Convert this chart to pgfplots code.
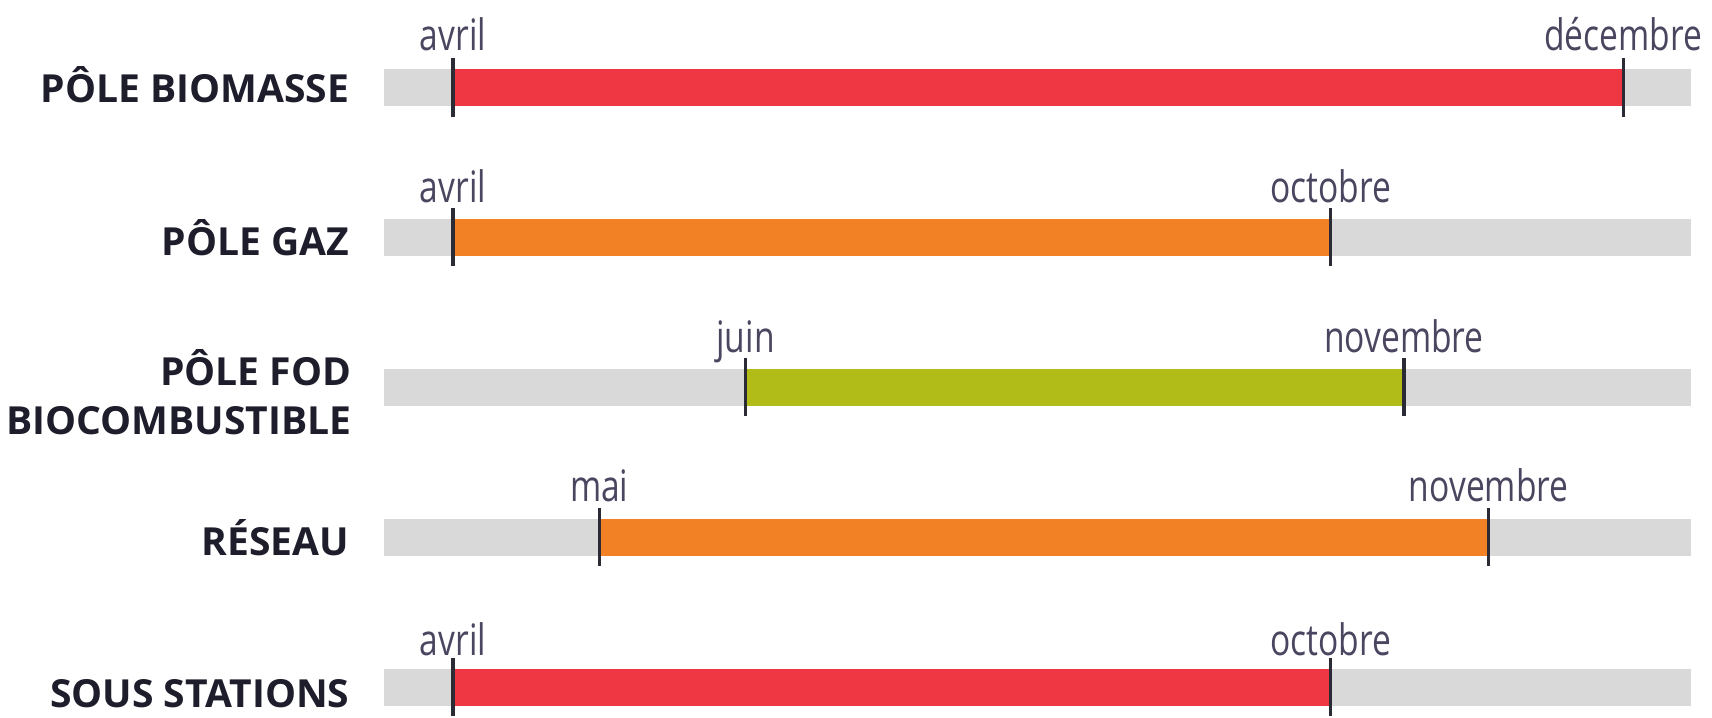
\documentclass[border=0pt]{standalone}
\usepackage{fontspec}
\usepackage{pgfplots}
\pgfplotsset{compat=1.18}
\setmainfont{Open Sans}
\newfontfamily\monthfont[FakeStretch=0.775]{Open Sans}
\newfontfamily\labelfont[FakeStretch=1.01]{Open Sans}
\definecolor{cred}{HTML}{EE3742}
\definecolor{corange}{HTML}{F28025}
\definecolor{cgreen}{HTML}{B1BC18}
\definecolor{cgray}{HTML}{D9D9D9}
\definecolor{ctick}{HTML}{2B2B35}
\definecolor{clabel}{HTML}{1D1D2B}
\definecolor{cmonth}{HTML}{4B4560}
\tikzset{
  bg/.style={draw=cgray, line width=11.1pt},
  tk/.style={draw=ctick, line width=0.95pt},
  mlab/.style={anchor=base, inner sep=0pt, text=cmonth, font=\monthfont\fontsize{13}{15}\selectfont},
  rlab/.style={anchor=base east, inner sep=0pt, text=clabel, font=\labelfont\bfseries\fontsize{11.6}{13}\selectfont},
}
\begin{document}
\begin{tikzpicture}
\begin{axis}[
  scale only axis, width=513.6pt, height=215.4pt,
  xmin=0.9036, xmax=12.606, ymin=-0.5837, ymax=4.206, y dir=reverse,
  axis line style={draw=none}, xtick=\empty, ytick=\empty,
  clip=true,
]
% background bars
\addplot[bg] coordinates {(3.53,0) (12.46,0)};
\addplot[bg] coordinates {(3.53,1) (12.46,1)};
\addplot[bg] coordinates {(3.53,2) (12.46,2)};
\addplot[bg] coordinates {(3.53,3) (12.46,3)};
\addplot[bg] coordinates {(3.53,4) (12.46,4)};
% periods
\addplot[draw=cred, line width=11.1pt] coordinates {(4,0) (12,0)};
\addplot[draw=corange, line width=11.1pt] coordinates {(4,1) (10,1)};
\addplot[draw=cgreen, line width=11.1pt] coordinates {(6,2) (10.5,2)};
\addplot[draw=corange, line width=11.1pt] coordinates {(5,3) (11.08,3)};
\addplot[draw=cred, line width=11.1pt] coordinates {(4,4) (10,4)};
% tick marks
\addplot[tk] coordinates {(4,-0.1935) (4,0.1935)};
\addplot[tk] coordinates {(12,-0.1935) (12,0.1935)};
\addplot[tk] coordinates {(4,0.8065) (4,1.1935)};
\addplot[tk] coordinates {(10,0.8065) (10,1.1935)};
\addplot[tk] coordinates {(6,1.8065) (6,2.1935)};
\addplot[tk] coordinates {(10.5,1.8065) (10.5,2.1935)};
\addplot[tk] coordinates {(5,2.8065) (5,3.1935)};
\addplot[tk] coordinates {(11.08,2.8065) (11.08,3.1935)};
\addplot[tk] coordinates {(4,3.8065) (4,4.1935)};
\addplot[tk] coordinates {(10,3.8065) (10,4.1935)};
% month labels
\node[mlab] at (axis cs:4,-0.25) {avril};
\node[mlab] at (axis cs:12,-0.25) {décembre};
\node[mlab] at (axis cs:4,0.77) {avril};
\node[mlab] at (axis cs:10,0.77) {octobre};
\node[mlab] at (axis cs:6,1.771) {juin};
\node[mlab] at (axis cs:10.5,1.771) {novembre};
\node[mlab] at (axis cs:5,2.765) {mai};
\node[mlab] at (axis cs:11.08,2.765) {novembre};
\node[mlab] at (axis cs:4,3.786) {avril};
\node[mlab] at (axis cs:10,3.786) {octobre};
% row labels
\node[rlab] at (axis cs:3.296,0.097) {PÔLE BIOMASSE};
\node[rlab] at (axis cs:3.296,1.121) {PÔLE GAZ};
\node[rlab] at (axis cs:3.31,1.985) {PÔLE FOD};
\node[rlab] at (axis cs:3.31,2.316) {BIOCOMBUSTIBLE};
\node[rlab] at (axis cs:3.296,3.119) {RÉSEAU};
\node[rlab] at (axis cs:3.296,4.136) {SOUS STATIONS};
\end{axis}
\end{tikzpicture}
\end{document}
